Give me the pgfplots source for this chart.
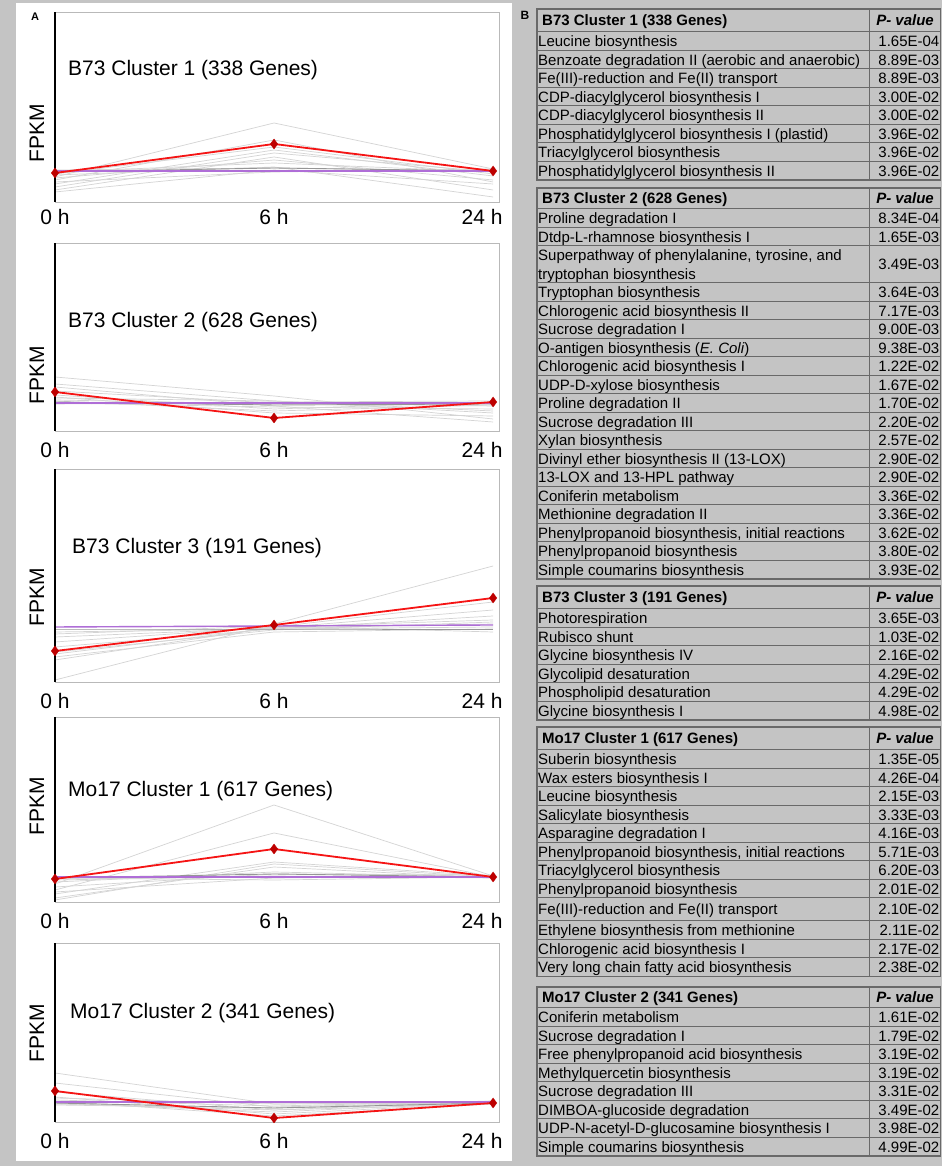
\documentclass[border=0pt]{standalone}
\usepackage{fontspec}
\setmainfont{Liberation Sans}
\usepackage{pgfplots}
\pgfplotsset{compat=1.18}
\definecolor{bg}{RGB}{196,196,196}
\definecolor{tl}{RGB}{105,105,105}
\definecolor{ax}{RGB}{185,185,185}
\definecolor{gl}{RGB}{212,212,212}
\definecolor{dg}{RGB}{150,150,150}
\definecolor{pu}{RGB}{175,110,215}
\definecolor{rl}{RGB}{245,20,20}
\definecolor{rm}{RGB}{190,0,0}
\pgfplotsset{
  panel/.style={scale only axis, width=444pt, anchor=south west,
    xmin=0, xmax=2.027, ymin=0,
    axis line style={draw=ax, line width=0.8pt},
    ytick=\empty, xtick={0,1,1.95}, xticklabels={0 h,6 h,24 h},
    major tick length=0pt,
    x tick label style={font=\fontsize{21}{25}\selectfont, inner sep=0pt, anchor=north, yshift=-11pt},
    clip=false, axis background/.style={fill=white}},
  gr/.style={gl, line width=0.7pt, no marks},
  mn/.style={dg, line width=0.9pt, no marks},
  pl/.style={pu, line width=1.4pt, no marks},
  rd/.style={rl, line width=1.8pt, mark=diamond*, mark size=5pt,
    mark options={fill=rm, draw=rm, line width=0.3pt}},
}
\tikzset{tx/.style={inner sep=0pt, font=\fontsize{15}{18}\selectfont},
  big/.style={inner sep=0pt, font=\fontsize{21}{25}\selectfont}}
\newcommand{\trow}[4]{%
  \draw[tl, line width=1pt] (537,#1) -- (940.5,#1);
  \node[tx, anchor=base west] at (538,{#1+#2/2+5.5}) {#3};
  \node[tx, anchor=base east] at (939.5,{#1+#2/2+5.5}) {#4};}
\newcommand{\thead}[4]{%
  \draw[tl, line width=1.2pt] (537,#1) rectangle (940.5,#3);
  \draw[tl, line width=1pt] (869,#1) -- (869,#3);
  \node[tx, anchor=base west, font=\bfseries\fontsize{15}{18}\selectfont] at (542,{(#1+#2)/2+5.5}) {#4};
  \node[tx, anchor=base east, font=\bfseries\itshape\fontsize{15}{18}\selectfont] at (934,{(#1+#2)/2+5.5}) {P- value};}
\begin{document}
\begin{tikzpicture}
\useasboundingbox (0,0) rectangle (942pt,1166pt);
\begin{scope}[yshift=1166pt, x=1pt, y=-1pt]
  \fill[bg] (0,0) rectangle (942,1166);
  \fill[white] (16,3) rectangle (512,1161);
\end{scope}

% Panel 1
\begin{axis}[panel, at={(55pt,964pt)}, height=190pt, ymax=190,
  x tick label style={yshift=4pt}]
\addplot[gr] coordinates {(0,25)(1,79)(2,33)};
\addplot[gr] coordinates {(0,22)(1,62)(2,20)};
\addplot[gr] coordinates {(0,28)(1,55)(2,28)};
\addplot[gr] coordinates {(0,18)(1,52)(2,26)};
\addplot[gr] coordinates {(0,15)(1,49)(2,30)};
\addplot[gr] coordinates {(0,12)(1,45)(2,12)};
\addplot[gr] coordinates {(0,30)(1,39)(2,30)};
\addplot[gr] coordinates {(0,27)(1,35)(2,5)};
\addplot[gr] coordinates {(0,32)(1,34)(2,31)};
\addplot[gr] coordinates {(0,20)(1,30)(2,33)};
\addplot[gr] coordinates {(0,10)(1,32)(2,18)};
\addplot[gr] coordinates {(0,24)(1,42)(2,22)};
\addplot[mn] coordinates {(0,30)(1,34)(2,31)};
\addplot[pl] coordinates {(0,31)(1,31)(2,31)};
\addplot[rd] coordinates {(0,29)(1,58)(2,31)};
\draw[black, line width=2pt] (rel axis cs:0,0) -- (rel axis cs:0,1);
\end{axis}

% Panel 2
\begin{axis}[panel, at={(55pt,735pt)}, height=188pt, ymax=188]
\addplot[gr] coordinates {(0,54)(1,35)(2,12)};
\addplot[gr] coordinates {(0,47)(1,30)(2,20)};
\addplot[gr] coordinates {(0,44)(1,25)(2,9)};
\addplot[gr] coordinates {(0,40)(1,28)(2,25)};
\addplot[gr] coordinates {(0,36)(1,22)(2,29)};
\addplot[gr] coordinates {(0,33)(1,30)(2,18)};
\addplot[gr] coordinates {(0,31)(1,27)(2,28)};
\addplot[gr] coordinates {(0,30)(1,20)(2,26)};
\addplot[gr] coordinates {(0,28)(1,24)(2,22)};
\addplot[gr] coordinates {(0,27)(1,29)(2,30)};
\addplot[gr] coordinates {(0,34)(1,18)(2,15)};
\addplot[mn] coordinates {(0,29)(1,26)(2,27)};
\addplot[pl] coordinates {(0,28)(1,28)(2,28)};
\addplot[rd] coordinates {(0,39)(1,13)(2,29)};
\draw[black, line width=2pt] (rel axis cs:0,0) -- (rel axis cs:0,1);
\end{axis}

% Panel 3
\begin{axis}[panel, at={(55pt,484pt)}, height=213pt, ymax=213]
\addplot[gr] coordinates {(0,2)(1,58)(2,116)};
\addplot[gr] coordinates {(0,22)(1,55)(2,80)};
\addplot[gr] coordinates {(0,28)(1,54)(2,72)};
\addplot[gr] coordinates {(0,35)(1,53)(2,66)};
\addplot[gr] coordinates {(0,40)(1,55)(2,62)};
\addplot[gr] coordinates {(0,45)(1,54)(2,58)};
\addplot[gr] coordinates {(0,50)(1,53)(2,55)};
\addplot[gr] coordinates {(0,25)(1,50)(2,53)};
\addplot[gr] coordinates {(0,48)(1,56)(2,50)};
\addplot[gr] coordinates {(0,30)(1,52)(2,60)};
\addplot[mn] coordinates {(0,53)(1,53)(2,53)};
\addplot[pl] coordinates {(0,55)(1,56)(2,57)};
\addplot[rd] coordinates {(0,31)(1,57)(2,84)};
\draw[black, line width=2pt] (rel axis cs:0,0) -- (rel axis cs:0,1);
\end{axis}

% Panel 4
\begin{axis}[panel, at={(55pt,264pt)}, height=185pt, ymax=185]
\addplot[gr] coordinates {(0,18)(1,97)(2,26)};
\addplot[gr] coordinates {(0,12)(1,69)(2,25)};
\addplot[gr] coordinates {(0,8)(1,40)(2,26)};
\addplot[gr] coordinates {(0,4)(1,35)(2,24)};
\addplot[gr] coordinates {(0,20)(1,30)(2,25)};
\addplot[gr] coordinates {(0,15)(1,28)(2,27)};
\addplot[gr] coordinates {(0,22)(1,26)(2,24)};
\addplot[gr] coordinates {(0,10)(1,24)(2,26)};
\addplot[gr] coordinates {(0,24)(1,22)(2,25)};
\addplot[gr] coordinates {(0,2)(1,38)(2,25)};
\addplot[mn] coordinates {(0,24)(1,28)(2,25)};
\addplot[pl] coordinates {(0,25)(1,25)(2,25)};
\addplot[rd] coordinates {(0,23)(1,53)(2,25)};
\draw[black, line width=2pt] (rel axis cs:0,0) -- (rel axis cs:0,1);
\end{axis}

% Panel 5
\begin{axis}[panel, at={(55pt,44pt)}, height=179pt, ymax=179]
\addplot[gr] coordinates {(0,49)(1,18)(2,19)};
\addplot[gr] coordinates {(0,39)(1,15)(2,20)};
\addplot[gr] coordinates {(0,30)(1,12)(2,18)};
\addplot[gr] coordinates {(0,25)(1,8)(2,19)};
\addplot[gr] coordinates {(0,22)(1,16)(2,21)};
\addplot[gr] coordinates {(0,19)(1,10)(2,20)};
\addplot[gr] coordinates {(0,17)(1,14)(2,19)};
\addplot[gr] coordinates {(0,21)(1,6)(2,18)};
\addplot[gr] coordinates {(0,24)(1,18)(2,20)};
\addplot[gr] coordinates {(0,18)(1,12)(2,21)};
\addplot[mn] coordinates {(0,19)(1,14)(2,19)};
\addplot[pl] coordinates {(0,20)(1,20)(2,20)};
\addplot[rd] coordinates {(0,31)(1,4)(2,19)};
\draw[black, line width=2pt] (rel axis cs:0,0) -- (rel axis cs:0,1);
\end{axis}

\begin{scope}[yshift=1166pt, x=1pt, y=-1pt]
  \node[inner sep=0pt, font=\bfseries\fontsize{11}{13}\selectfont] at (35,17) {A};
  \node[inner sep=0pt, font=\bfseries\fontsize{12}{14}\selectfont] at (525,15) {B};
  \node[big, anchor=west] at (68,70) {B73 Cluster 1 (338 Genes)};
  \node[big, anchor=west] at (68,322) {B73 Cluster 2 (628 Genes)};
  \node[big, anchor=west] at (72,548) {B73 Cluster 3 (191 Genes)};
  \node[big, anchor=west] at (68,791) {Mo17 Cluster 1 (617 Genes)};
  \node[big, anchor=west] at (70,1013) {Mo17 Cluster 2 (341 Genes)};
  \node[big, rotate=90] at (37,133) {FPKM};
  \node[big, rotate=90] at (37,375) {FPKM};
  \node[big, rotate=90] at (37,597) {FPKM};
  \node[big, rotate=90] at (37,806) {FPKM};
  \node[big, rotate=90] at (37,1033) {FPKM};

  % Table 1
  \thead{9}{32}{180}{B73 Cluster 1 (338 Genes)}
  \trow{32}{18.5}{Leucine biosynthesis}{1.65E-04}
  \trow{50.5}{18.5}{Benzoate degradation II (aerobic and anaerobic)}{8.89E-03}
  \trow{69}{18.5}{Fe(III)-reduction and Fe(II) transport}{8.89E-03}
  \trow{87.5}{18.5}{CDP-diacylglycerol biosynthesis I}{3.00E-02}
  \trow{106}{18.5}{CDP-diacylglycerol biosynthesis II}{3.00E-02}
  \trow{124.5}{18.5}{Phosphatidylglycerol biosynthesis I (plastid)}{3.96E-02}
  \trow{143}{18.5}{Triacylglycerol biosynthesis}{3.96E-02}
  \trow{161.5}{18.5}{Phosphatidylglycerol biosynthesis II}{3.96E-02}

  % Table 2
  \thead{188}{209}{579}{B73 Cluster 2 (628 Genes)}
  \trow{209}{18.5}{Proline degradation I}{8.34E-04}
  \trow{227.5}{18.5}{Dtdp-L-rhamnose biosynthesis I}{1.65E-03}
  \trow{246}{37}{}{3.49E-03}
  \node[tx, anchor=base west] at (538,260.75) {Superpathway of phenylalanine, tyrosine, and};
  \node[tx, anchor=base west] at (538,279.25) {tryptophan biosynthesis};
  \trow{283}{18.5}{Tryptophan biosynthesis}{3.64E-03}
  \trow{301.5}{18.5}{Chlorogenic acid biosynthesis II}{7.17E-03}
  \trow{320}{18.5}{Sucrose degradation I}{9.00E-03}
  \trow{338.5}{18.5}{O-antigen biosynthesis (\textit{E. Coli})}{9.38E-03}
  \trow{357}{18.5}{Chlorogenic acid biosynthesis I}{1.22E-02}
  \trow{375.5}{18.5}{UDP-D-xylose biosynthesis}{1.67E-02}
  \trow{394}{18.5}{Proline degradation II}{1.70E-02}
  \trow{412.5}{18.5}{Sucrose degradation III}{2.20E-02}
  \trow{431}{18.5}{Xylan biosynthesis}{2.57E-02}
  \trow{449.5}{18.5}{Divinyl ether biosynthesis II (13-LOX)}{2.90E-02}
  \trow{468}{18.5}{13-LOX and 13-HPL pathway}{2.90E-02}
  \trow{486.5}{18.5}{Coniferin metabolism}{3.36E-02}
  \trow{505}{18.5}{Methionine degradation II}{3.36E-02}
  \trow{523.5}{18.5}{Phenylpropanoid biosynthesis, initial reactions}{3.62E-02}
  \trow{542}{18.5}{Phenylpropanoid biosynthesis}{3.80E-02}
  \trow{560.5}{18.5}{Simple coumarins biosynthesis}{3.93E-02}

  % Table 3
  \thead{586}{609}{720}{B73 Cluster 3 (191 Genes)}
  \trow{609}{18.5}{Photorespiration}{3.65E-03}
  \trow{627.5}{18.5}{Rubisco shunt}{1.03E-02}
  \trow{646}{18.5}{Glycine biosynthesis IV}{2.16E-02}
  \trow{664.5}{18.5}{Glycolipid desaturation}{4.29E-02}
  \trow{683}{18.5}{Phospholipid desaturation}{4.29E-02}
  \trow{701.5}{18.5}{Glycine biosynthesis I}{4.98E-02}

  % Table 4
  \thead{727}{750}{976.5}{Mo17 Cluster 1 (617 Genes)}
  \trow{750}{18.5}{Suberin biosynthesis}{1.35E-05}
  \trow{768.5}{18.5}{Wax esters biosynthesis I}{4.26E-04}
  \trow{787}{18.5}{Leucine biosynthesis}{2.15E-03}
  \trow{805.5}{18.5}{Salicylate biosynthesis}{3.33E-03}
  \trow{824}{18.5}{Asparagine degradation I}{4.16E-03}
  \trow{842.5}{18.5}{Phenylpropanoid biosynthesis, initial reactions}{5.71E-03}
  \trow{861}{18.5}{Triacylglycerol biosynthesis}{6.20E-03}
  \trow{879.5}{18.5}{Phenylpropanoid biosynthesis}{2.01E-02}
  \trow{898}{23}{Fe(III)-reduction and Fe(II) transport}{2.10E-02}
  \trow{921}{18.5}{Ethylene biosynthesis from methionine}{2.11E-02}
  \trow{939.5}{18.5}{Chlorogenic acid biosynthesis I}{2.17E-02}
  \trow{958}{18.5}{Very long chain fatty acid biosynthesis}{2.38E-02}

  % Table 5
  \thead{987}{1008}{1156}{Mo17 Cluster 2 (341 Genes)}
  \trow{1008}{18.5}{Coniferin metabolism}{1.61E-02}
  \trow{1026.5}{18.5}{Sucrose degradation I}{1.79E-02}
  \trow{1045}{18.5}{Free phenylpropanoid acid biosynthesis}{3.19E-02}
  \trow{1063.5}{18.5}{Methylquercetin biosynthesis}{3.19E-02}
  \trow{1082}{18.5}{Sucrose degradation III}{3.31E-02}
  \trow{1100.5}{18.5}{DIMBOA-glucoside degradation}{3.49E-02}
  \trow{1119}{18.5}{UDP-N-acetyl-D-glucosamine biosynthesis I}{3.98E-02}
  \trow{1137.5}{18.5}{Simple coumarins biosynthesis}{4.99E-02}
\end{scope}
\end{tikzpicture}
\end{document}
